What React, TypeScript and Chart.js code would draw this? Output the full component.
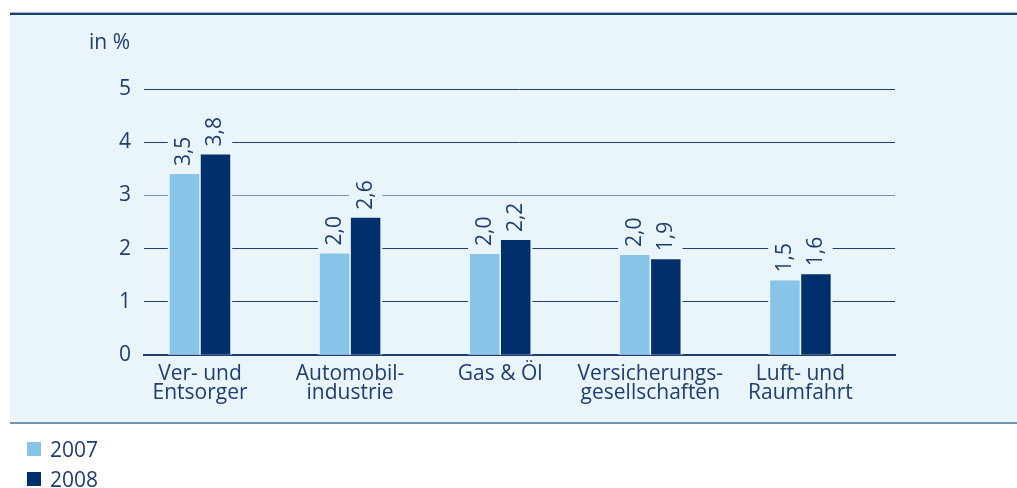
import React, { useEffect, useRef } from "react";
import { Chart, registerables } from "chart.js";

Chart.register(...registerables);

// ---- data ----
const categories: string[][] = [
  ["Ver- und", "Entsorger"],
  ["Automobil-", "industrie"],
  ["Gas & Öl"],
  ["Versicherungs-", "gesellschaften"],
  ["Luft- und", "Raumfahrt"],
];
const seriesNames = ["2007", "2008"];
const values2007 = [3.4, 1.91, 1.9, 1.88, 1.4];
const values2008 = [3.77, 2.58, 2.16, 1.8, 1.52];
const labels2007 = ["3,5", "2,0", "2,0", "2,0", "1,5"];
const labels2008 = ["3,8", "2,6", "2,2", "1,9", "1,6"];
const yMin = 0;
const yMax = 5;
const yStep = 1;
const unitLabel = "in %";

// ---- styles ----
const LIGHT = "#88c4e8";
const DARK = "#00306b";
const PANEL = "#e9f4fb";
const TEXT = "#1f3e6f";
const GRID = "#1f3e6f";
const GRID_SOFT = "#7593b9";
const FONT = "'Open Sans', 'Noto Sans', sans-serif";
const FS = 21;

const valueLabels = [labels2007, labels2008];

const labelPlugin = {
  id: "valueLabels",
  beforeDatasetsDraw(chart: any) {
    const ctx = chart.ctx;
    ctx.save();
    ctx.font = `${FS}px ${FONT}`;
    ctx.fillStyle = PANEL;
    chart.data.datasets.forEach((_: any, di: number) => {
      const meta = chart.getDatasetMeta(di);
      meta.data.forEach((bar: any, i: number) => {
        const p = bar.getProps(["x", "y", "base", "width"], true);
        const tw = ctx.measureText(valueLabels[di][i]).width;
        const top = p.y - 8 - tw - 3;
        ctx.fillRect(p.x - p.width / 2 - 2, top, p.width + 4, p.base - top);
      });
    });
    ctx.restore();
  },
  afterDatasetsDraw(chart: any) {
    const ctx = chart.ctx;
    ctx.save();
    ctx.font = `${FS}px ${FONT}`;
    ctx.fillStyle = TEXT;
    ctx.textAlign = "left";
    ctx.textBaseline = "middle";
    chart.data.datasets.forEach((_: any, di: number) => {
      const meta = chart.getDatasetMeta(di);
      meta.data.forEach((bar: any, i: number) => {
        const p = bar.getProps(["x", "y"], true);
        ctx.save();
        ctx.translate(p.x, p.y - 8);
        ctx.rotate(-Math.PI / 2);
        ctx.fillText(valueLabels[di][i], 0, 0);
        ctx.restore();
      });
    });
    // unit label
    const ys = chart.scales.y;
    ctx.textAlign = "right";
    ctx.textBaseline = "alphabetic";
    ctx.fillText(unitLabel, ys.right - 14, 49);
    ctx.restore();
  },
};

export default function App() {
  const ref = useRef<HTMLCanvasElement | null>(null);

  useEffect(() => {
    document.body.style.margin = "0";
    if (!ref.current) return;
    const chart = new Chart(ref.current, {
      type: "bar",
      data: {
        datasets: [
          {
            label: seriesNames[0],
            data: values2007.map((v, i) => ({ x: i, y: v })),
            backgroundColor: LIGHT,
            categoryPercentage: 0.413,
            barPercentage: 0.95,
          },
          {
            label: seriesNames[1],
            data: values2008.map((v, i) => ({ x: i, y: v })),
            backgroundColor: DARK,
            categoryPercentage: 0.413,
            barPercentage: 0.95,
          },
        ] as any,
      },
      options: {
        responsive: false,
        animation: false,
        devicePixelRatio: 1,
        layout: { padding: { top: 89, right: 122, left: 0, bottom: 0 } },
        plugins: {
          legend: { display: false },
          tooltip: { enabled: false },
        },
        scales: {
          x: {
            type: "linear",
            offset: false,
            min: -0.373,
            max: 4.63,
            grid: { display: false, offset: false },
            border: { display: true, color: GRID, width: 2 },
            afterBuildTicks: (s: any) => {
              s.ticks = categories.map((_, i) => ({ value: i }));
            },
            afterFit: (s: any) => {
              s.height = 133;
            },
            ticks: {
              autoSkip: false,
              maxRotation: 0,
              minRotation: 0,
              padding: 2,
              color: TEXT,
              font: { family: FONT, size: FS, lineHeight: 0.9 },
              callback: (v: any) => categories[v] ?? "",
            },
          },
          y: {
            min: yMin,
            max: yMax,
            grid: {
              drawTicks: false,
              color: (c: any) => (c.tick && c.tick.value === 3 ? GRID_SOFT : GRID),
              lineWidth: 1,
            },
            border: { display: false },
            afterFit: (s: any) => {
              s.width = 144;
            },
            ticks: {
              stepSize: yStep,
              padding: 13,
              color: TEXT,
              font: { family: FONT, size: FS },
            },
          },
        },
      } as any,
      plugins: [labelPlugin],
    });
    return () => chart.destroy();
  }, []);

  return (
    <div style={{ position: "fixed", left: 0, top: 0, width: 1017, height: 488, background: "#fff", fontFamily: FONT }}>
      <div style={{ position: "absolute", left: 10, top: 12, width: 1007, height: 1, background: "#a3b9d4" }} />
      <div
        style={{
          position: "absolute",
          left: 10,
          top: 13,
          width: 1007,
          height: 407,
          background: PANEL,
          borderTop: "2px solid #1b3d70",
          borderBottom: "2px solid #7393bd",
        }}
      />
      <canvas ref={ref} width={1017} height={488} style={{ position: "absolute", left: 0, top: 0, width: 1017, height: 488 }} />
      {seriesNames.map((name, i) => (
        <div
          key={name}
          style={{
            position: "absolute",
            left: 27,
            top: 435 + i * 30,
            height: 28,
            display: "flex",
            alignItems: "center",
            color: TEXT,
            fontSize: FS,
          }}
        >
          <span style={{ display: "inline-block", width: 14, height: 14, background: i === 0 ? LIGHT : DARK, marginRight: 9 }} />
          <span>{name}</span>
        </div>
      ))}
    </div>
  );
}
